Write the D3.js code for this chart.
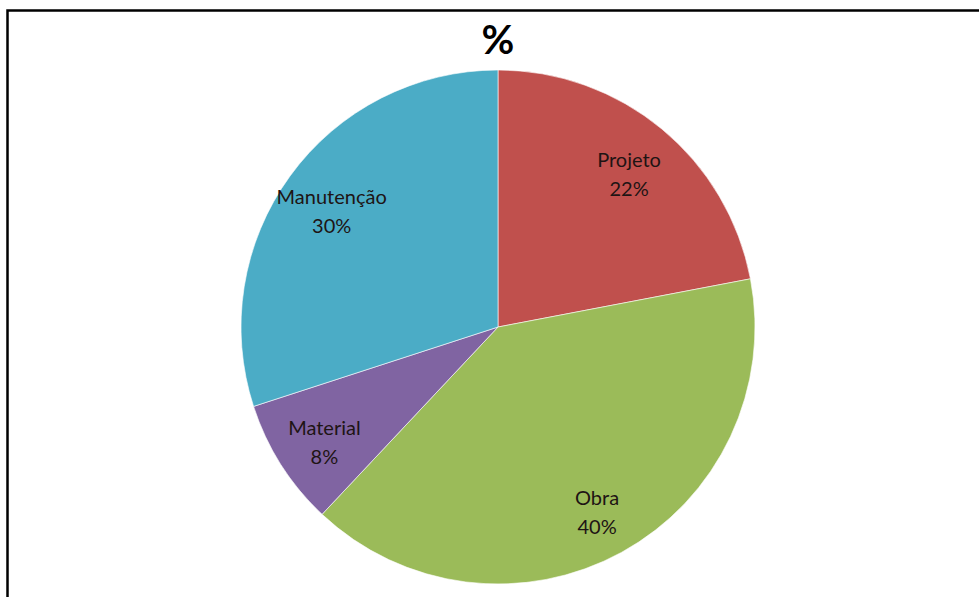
<!DOCTYPE html>
<html>
<head>
<meta charset="utf-8">
<script src="https://cdn.jsdelivr.net/npm/d3@7"></script>
<style>
  html, body { margin: 0; padding: 0; background: #fff; }
  svg { display: block; }
</style>
</head>
<body>
<script>
// Share of each cost category (%)
const categories = ["Projeto", "Obra", "Material", "Manutenção"];
const values = [22, 40, 8, 30];
const colors = ["#C0504D", "#9BBB59", "#8064A2", "#4BACC6"];
const title = "%";

const W = 979, H = 597;
const cx = 498, cy = 327, R = 257;

const svg = d3.select("body").append("svg")
  .attr("width", W).attr("height", H);

// chart frame (runs past the right and bottom edges)
svg.append("rect")
  .attr("x", 7.5).attr("y", 10.5)
  .attr("width", W + 10).attr("height", H + 10)
  .attr("fill", "#fff")
  .attr("stroke", "#000").attr("stroke-width", 2.5);

svg.append("text")
  .attr("x", cx).attr("y", 54)
  .attr("text-anchor", "middle")
  .attr("font-family", "Lato, 'Open Sans', sans-serif")
  .attr("font-weight", "bold")
  .attr("font-size", 40)
  .attr("fill", "#000")
  .text(title);

const data = categories.map((c, i) => ({ name: c, value: values[i], color: colors[i] }));

const pie = d3.pie().sort(null).value(d => d.value);
const arcs = pie(data);

const arc = d3.arc().innerRadius(0).outerRadius(R);
const labelR = R * 0.8;
const labelArc = d3.arc().innerRadius(labelR).outerRadius(labelR);

const g = svg.append("g").attr("transform", `translate(${cx},${cy})`);

g.selectAll("path.slice")
  .data(arcs)
  .enter().append("path")
  .attr("class", "slice")
  .attr("d", arc)
  .attr("fill", d => d.data.color)
  .attr("stroke", "#ffffff")
  .attr("stroke-width", 0.6);

const total = d3.sum(values);
const labels = g.selectAll("text.lbl")
  .data(arcs)
  .enter().append("text")
  .attr("class", "lbl")
  .attr("transform", d => {
    const [x, y] = labelArc.centroid(d);
    return `translate(${x},${y})`;
  })
  .attr("text-anchor", "middle")
  .attr("font-family", "Lato, 'Open Sans', sans-serif")
  .attr("font-size", 20)
  .attr("fill", "#1e1414");

labels.append("tspan")
  .attr("x", 0).attr("dy", "-0.1em")
  .text(d => d.data.name);
labels.append("tspan")
  .attr("x", 0).attr("dy", "1.45em")
  .text(d => Math.round(d.data.value / total * 100) + "%");
</script>
</body>
</html>
